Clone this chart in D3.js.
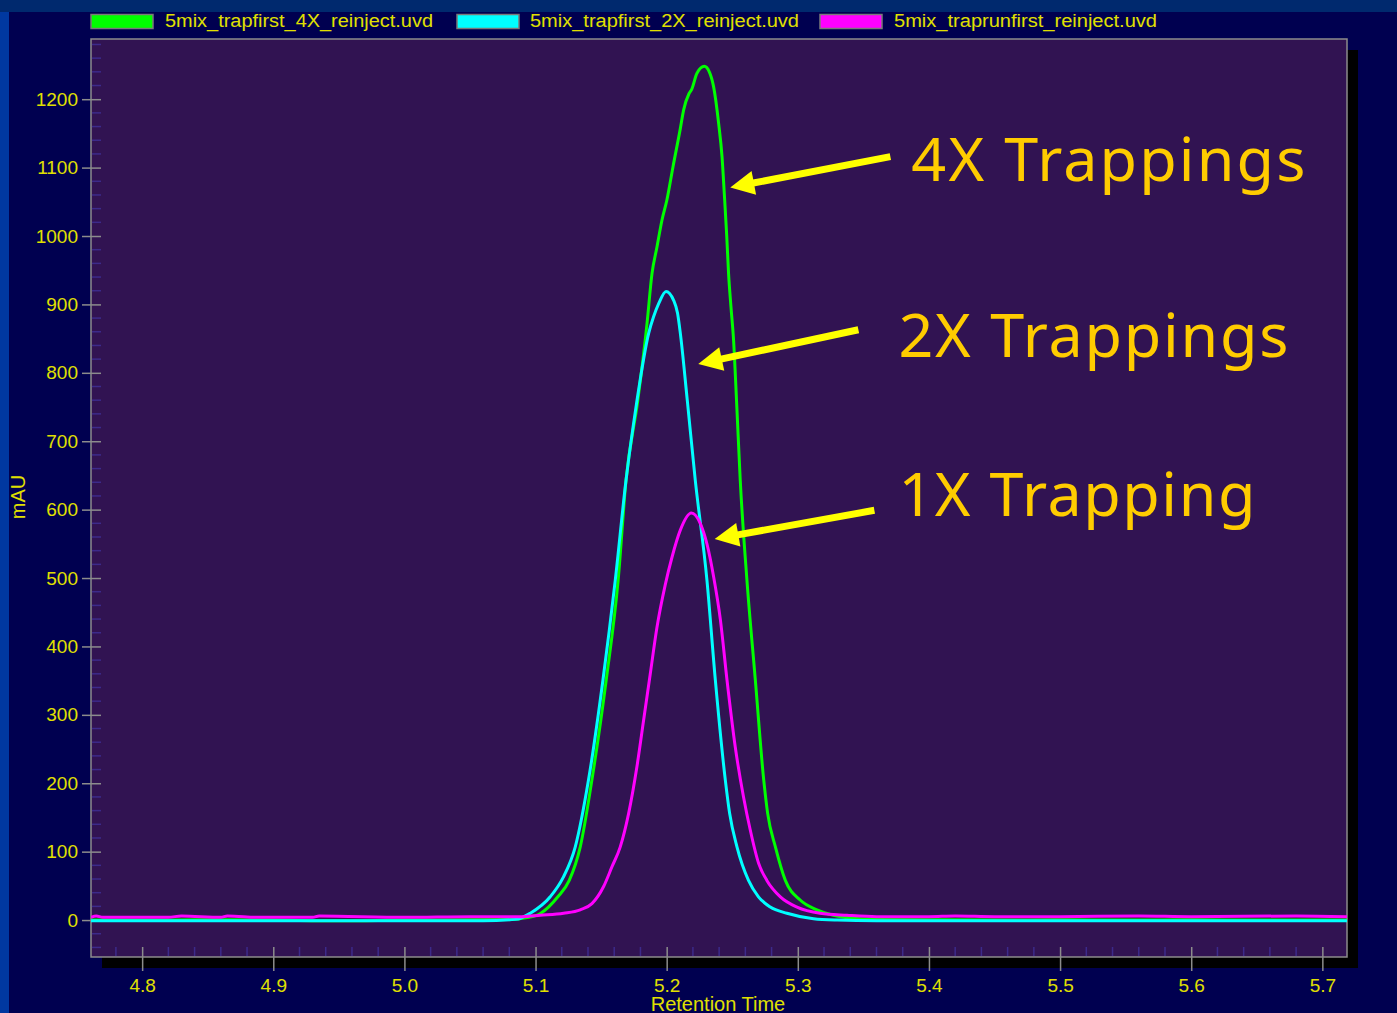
<!DOCTYPE html>
<html>
<head>
<meta charset="utf-8">
<script src="https://cdn.jsdelivr.net/npm/d3@7"></script>
<style>
  body { margin: 0; background: #000050; }
  svg { display: block; }
</style>
</head>
<body>
<svg id="chart" width="1397" height="1013"></svg>
<script>
// ---- Data -------------------------------------------------------------
const seriesNames = [
  "5mix_trapfirst_4X_reinject.uvd",
  "5mix_trapfirst_2X_reinject.uvd",
  "5mix_traprunfirst_reinject.uvd"
];
const seriesColors = ["#00ff00", "#00ffff", "#ff00ff"];

// 4X trapping trace (retention time in min, absorbance in mAU)
const time4X = [4.761, 4.80, 4.85, 4.90, 4.95, 5.00, 5.05, 5.08, 5.095, 5.104, 5.117, 5.1257, 5.1341, 5.143,
  5.1539, 5.163, 5.169, 5.178, 5.185, 5.1888, 5.1926, 5.1964, 5.2002, 5.2048, 5.2104, 5.2129,
  5.217, 5.219, 5.2231, 5.2287, 5.2325, 5.2358, 5.2396, 5.2422, 5.2440, 5.2458, 5.2472, 5.249,
  5.251, 5.2535, 5.2561, 5.2612, 5.2676, 5.274, 5.277, 5.2829, 5.2905, 5.302, 5.3146, 5.327,
  5.34, 5.36, 5.40, 5.45, 5.50, 5.55, 5.60, 5.65, 5.7188];
const mau4X = [0, 0, 0.5, 0, -1, 0, 0.5, 1, 4, 10, 34, 58, 107, 205,
  351, 497, 643, 760, 872, 945, 984, 1023, 1053, 1101, 1157, 1184,
  1208, 1214, 1238, 1248, 1240, 1218, 1165, 1116, 1060, 1000, 945, 897,
  848, 750, 643, 497, 351, 205, 156, 107, 58, 29, 15, 7,
  3, 1, 0.5, 0, 0.5, 0, 0.5, 0, 0];

// 2X trapping trace
const time2X = [4.761, 4.80, 4.90, 5.00, 5.06, 5.085, 5.096, 5.1112, 5.121, 5.1303, 5.1404, 5.1514,
  5.1608, 5.169, 5.177, 5.1863, 5.19, 5.1939, 5.1995, 5.2053, 5.2083, 5.2104, 5.2157, 5.2218,
  5.2307, 5.2371, 5.2447, 5.248, 5.2536, 5.2624, 5.27, 5.279, 5.2917, 5.312, 5.33, 5.36,
  5.45, 5.55, 5.65, 5.7188];
const mau2X = [-1, -1, -1, -1, -1, 1, 10, 34, 62, 107, 205, 351,
  497, 643, 755, 858, 882, 901, 919, 906, 887, 858, 760, 643,
  497, 351, 205, 156, 107, 58, 34, 19, 10, 2, 0, -1,
  -1, -1, -1, -1];

// 1X trapping trace
const time1X = [4.761, 4.765, 4.77, 4.82, 4.83, 4.86, 4.865, 4.89, 4.93, 4.935, 5.00, 5.05, 5.09, 5.1036,
  5.1214, 5.1341, 5.143, 5.1519, 5.1583, 5.1646, 5.171, 5.1773, 5.1824, 5.1875, 5.1926, 5.1989,
  5.204, 5.2104, 5.2188, 5.2256, 5.2307, 5.2358, 5.2409, 5.246, 5.2523, 5.2586, 5.2637, 5.2701,
  5.2764, 5.2867, 5.2994, 5.317, 5.3375, 5.36, 5.40, 5.42, 5.45, 5.50, 5.56, 5.60, 5.68, 5.7188];
const mau1X = [4, 6, 4, 4, 6, 4, 6, 4, 4, 6, 4, 5, 5, 7,
  10, 15, 24, 49, 78, 107, 156, 224, 292, 360, 428, 490,
  530, 570, 595, 580, 550, 502, 440, 351, 253, 180, 132, 83,
  58, 34, 19, 10, 7, 5, 5, 6, 5, 5, 6, 5, 6, 5];

const seriesTimes = [time4X, time2X, time1X];
const seriesValues = [mau4X, mau2X, mau1X];

// Axis ticks
const yTicks = [0, 100, 200, 300, 400, 500, 600, 700, 800, 900, 1000, 1100, 1200];
const xTicks = [4.8, 4.9, 5.0, 5.1, 5.2, 5.3, 5.4, 5.5, 5.6, 5.7];

// Callouts: label, text anchor (min, mAU), arrow tail and tip (min, mAU)
const calloutLabels = ["4X Trappings", "2X Trappings", "1X Trapping"];
const calloutTextAt = [[5.3866, 1080], [5.3767, 823], [5.3767, 591]];
const calloutTextWidth = [394, 390, 357];
const arrowTails = [[5.3706, 1116], [5.3462, 863], [5.3584, 599]];
const arrowTips = [[5.2485, 1071], [5.2241, 813], [5.2366, 557]];

// ---- Layout ------------------------------------------------------------
const plot = { left: 91, top: 39, right: 1347, bottom: 957 };
const svg = d3.select("#chart");

const x = d3.scaleLinear().domain([4.761, 5.7188]).range([plot.left, plot.right]);
const y = d3.scaleLinear().domain([-54, 1288]).range([plot.bottom, plot.top]);

const textYellow = "#e0e000";
const frameGray = "#8c8c8c";
const minorColor = "#3c2a8a";

// Page backdrop
svg.append("rect").attr("width", 1397).attr("height", 1013).attr("fill", "#000050");
svg.append("rect").attr("x", 0).attr("y", 0).attr("width", 1397).attr("height", 12).attr("fill", "#00296e");
svg.append("rect").attr("x", 0).attr("y", 12).attr("width", 9).attr("height", 1001).attr("fill", "#0038a0");

// Drop shadow and plot area
svg.append("rect")
  .attr("x", plot.left + 11).attr("y", plot.top + 11)
  .attr("width", plot.right - plot.left).attr("height", plot.bottom - plot.top)
  .attr("fill", "#000000");
svg.append("rect")
  .attr("x", plot.left).attr("y", plot.top)
  .attr("width", plot.right - plot.left).attr("height", plot.bottom - plot.top)
  .attr("fill", "#311352");

svg.append("clipPath").attr("id", "plotClip")
  .append("rect")
  .attr("x", plot.left).attr("y", plot.top)
  .attr("width", plot.right - plot.left).attr("height", plot.bottom - plot.top);

// Minor ticks
const yMinor = d3.range(-40, 1281, 20).filter(v => v % 100 !== 0);
svg.append("g").selectAll("line").data(yMinor).join("line")
  .attr("x1", plot.left + 1).attr("x2", plot.left + 10)
  .attr("y1", d => y(d)).attr("y2", d => y(d))
  .attr("stroke", minorColor).attr("stroke-width", 1.5);

const xMinor = d3.range(239, 286, 1).map(i => i / 50).filter(v => Math.abs(v * 10 - Math.round(v * 10)) > 1e-6);
svg.append("g").selectAll("line").data(xMinor).join("line")
  .attr("x1", d => x(d)).attr("x2", d => x(d))
  .attr("y1", plot.bottom - 10).attr("y2", plot.bottom - 1)
  .attr("stroke", minorColor).attr("stroke-width", 1.5);

// Major axes
const yAxis = d3.axisLeft(y).tickValues(yTicks).tickSize(19).tickPadding(4).tickFormat(d3.format("d"));
const gy = svg.append("g").attr("transform", `translate(${plot.left + 10},0)`).call(yAxis);

const xAxis = d3.axisBottom(x).tickValues(xTicks).tickSize(24).tickPadding(8).tickFormat(d3.format(".1f"));
const gx = svg.append("g").attr("transform", `translate(0,${plot.bottom - 10})`).call(xAxis);

[gx, gy].forEach(g => {
  g.select(".domain").remove();
  g.selectAll(".tick line").attr("stroke", frameGray).attr("stroke-width", 1.5);
  g.selectAll(".tick text")
    .attr("fill", textYellow)
    .attr("font-family", "'Liberation Sans', Arial, sans-serif")
    .attr("font-size", 19);
});

// Frame
svg.append("rect")
  .attr("x", plot.left).attr("y", plot.top)
  .attr("width", plot.right - plot.left).attr("height", plot.bottom - plot.top)
  .attr("fill", "none").attr("stroke", frameGray).attr("stroke-width", 1.5);

// Traces
const line = d3.line().curve(d3.curveMonotoneX).x(d => x(d[0])).y(d => y(d[1]));
const traces = svg.append("g").attr("clip-path", "url(#plotClip)");
seriesNames.forEach((name, i) => {
  const pts = seriesTimes[i].map((t, j) => [t, seriesValues[i][j]]);
  traces.append("path")
    .datum(pts)
    .attr("d", line)
    .attr("fill", "none")
    .attr("stroke", seriesColors[i])
    .attr("stroke-width", 3)
    .attr("stroke-linejoin", "round");
});

// Legend
const legendSwatchX = [91, 457, 820];
const legendTextX = [165, 530, 894];
const legendTextWidth = [268, 269, 263];
const legend = svg.append("g");
seriesNames.forEach((name, i) => {
  legend.append("rect")
    .attr("x", legendSwatchX[i]).attr("y", 14.5)
    .attr("width", 62).attr("height", 14)
    .attr("fill", seriesColors[i])
    .attr("stroke", "#7a7a7a").attr("stroke-width", 1.5);
  legend.append("text")
    .attr("x", legendTextX[i]).attr("y", 27)
    .attr("fill", textYellow)
    .attr("font-family", "'Liberation Sans', Arial, sans-serif")
    .attr("font-size", 18)
    .attr("textLength", legendTextWidth[i])
    .attr("lengthAdjust", "spacingAndGlyphs")
    .text(name);
});

// Axis titles
svg.append("text")
  .attr("transform", "translate(18,497) rotate(-90)")
  .attr("text-anchor", "middle").attr("dy", "0.35em")
  .attr("fill", textYellow)
  .attr("font-family", "'Liberation Sans', Arial, sans-serif")
  .attr("font-size", 20)
  .text("mAU");

svg.append("text")
  .attr("x", 718).attr("y", 1011)
  .attr("text-anchor", "middle")
  .attr("fill", textYellow)
  .attr("font-family", "'Liberation Sans', Arial, sans-serif")
  .attr("font-size", 20)
  .text("Retention Time");

// Callout arrows
const arrows = svg.append("g");
arrowTails.forEach((tail, i) => {
  const tip = arrowTips[i];
  const x0 = x(tail[0]), y0 = y(tail[1]);
  const x1 = x(tip[0]), y1 = y(tip[1]);
  const len = Math.hypot(x1 - x0, y1 - y0);
  const ux = (x1 - x0) / len, uy = (y1 - y0) / len;
  const headLen = 24, headHalf = 12;
  const bx = x1 - ux * headLen, by = y1 - uy * headLen;
  arrows.append("line")
    .attr("x1", x0).attr("y1", y0)
    .attr("x2", bx + ux * 2).attr("y2", by + uy * 2)
    .attr("stroke", "#ffff00").attr("stroke-width", 7);
  arrows.append("polygon")
    .attr("points", [
      [x1, y1],
      [bx - uy * headHalf, by + ux * headHalf],
      [bx + uy * headHalf, by - ux * headHalf]
    ].map(p => p.join(",")).join(" "))
    .attr("fill", "#ffff00");
});

// Callout labels
calloutLabels.forEach((label, i) => {
  svg.append("text")
    .attr("x", x(calloutTextAt[i][0])).attr("y", y(calloutTextAt[i][1]))
    .attr("fill", "#ffcc00")
    .attr("font-family", "'Noto Sans', 'Open Sans', sans-serif")
    .attr("font-size", 61)
    .attr("textLength", calloutTextWidth[i])
    .attr("lengthAdjust", "spacing")
    .text(label);
});
</script>
</body>
</html>
